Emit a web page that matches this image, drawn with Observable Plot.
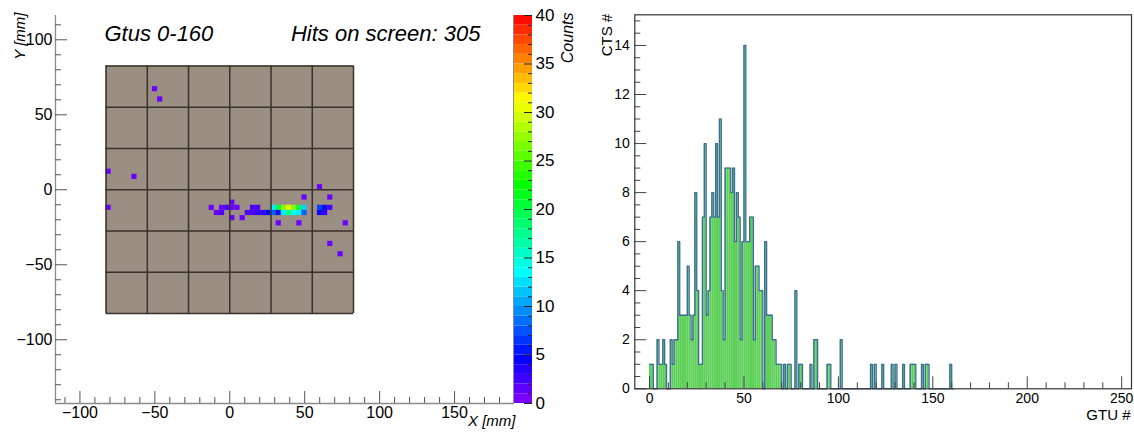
<!DOCTYPE html>
<html><head><meta charset="utf-8">
<script src="https://cdn.jsdelivr.net/npm/d3@7"></script>
<script src="https://cdn.jsdelivr.net/npm/@observablehq/plot@0.6"></script>
<style>
body{margin:0;background:#fff;width:1134px;height:434px;overflow:hidden;position:relative;font-family:"Liberation Sans",Arial,sans-serif;}
.panel{position:absolute;top:0;}
</style></head><body>
<div id="map" class="panel" style="left:0"></div>
<div id="cbar" class="panel" style="left:505px"></div>
<div id="hist" class="panel" style="left:575px"></div>
<script>
// ---------------- data ----------------
// hits on the 48x48 focal surface (pixel column, pixel row from top, counts)
const hitCol   = [9,10, 0,5,0, 20,21,22,22,23, 24,24,25,24,26,27,28,28,29,29,30,31, 32,33,34,35,36,37,38, 32,33,34,35,36,37,38, 33,37,38, 41,42,43,41,42, 41,43,46,43,45];
const hitRow   = [4,6, 20,21,27, 27,28,28,27,27, 26,27,27,29,29,28,27,28,27,28,28,28, 27,27,27,27,27,27,27, 28,28,28,28,28,28,28, 30,30,25, 27,27,27,28,28, 23,25,30,34,36];
const hitCount = [1,1, 1,1,1, 1,1,2,1,2, 1,1,1,1,1,2,2,2,2,3,3,5, 13,20,27,30,27,20,12, 8,5,13,18,14,13,8, 1,1,1, 7,5,2,4,3, 1,1,1,1,1];
const nPix = 48, ecPix = 8, pixPitch = 3.44; // mm

// counts per GTU bin (bins 0..160)
const gtuCounts = [
  1,1,0,0,2,1,1,2,1,0, 0,2,1,2,2,6,3,3,3,3, 5,3,2,3,8,4,1,1,7,10,
  3,4,7,8,7,10,7,11,4,2, 9,9,9,8,9,6,8,7,2,6, 14,6,6,7,7,2,5,5,4,4,
  0,6,3,3,3,2,2,1,1,1, 0,1,0,1,1,0,0,4,0,1, 1,0,0,0,0,1,0,2,2,0,
  0,0,0,0,1,1,0,0,0,0, 0,2,0,0,0,0,0,0,0,0, 0,0,0,0,0,0,0,1,0,1,
  0,0,0,1,0,0,0,0,1,0, 1,0,0,0,1,0,0,0,1,1, 1,0,0,0,1,0,1,1,0,0,
  0,0,0,0,0,0,0,0,0,1, 0
];

const mapXTicks = [-100,-50,0,50,100,150];
const mapYTicks = [-100,-50,0,50,100];
const cbarTicks = [0,5,10,15,20,25,30,35,40];
const histXTicks = [0,50,100,150,200,250];
const histYTicks = [0,2,4,6,8,10,12,14];

const titleLeft = "Gtus 0-160";
const titleRight = "Hits on screen: 305";

// ---------------- helpers ----------------
const FONT = "Liberation Sans, Arial, sans-serif";
const palette = t => d3.hsl(272 * (1 - t), 1, 0.5).formatRgb();

// ---------------- map panel ----------------
const half = nPix * pixPitch / 2;
const hits = hitCol.map((c, i) => ({col: c, row: hitRow[i], n: hitCount[i]}));
const ecEdges = d3.range(0, nPix + 1, ecPix).map(p => -half + p * pixPitch);

const mapX = [-116.3, 190], mapY = [-142.5, 116.2];
const mapW = 520, mapH = 434;
const mM = {top: 15, right: 6, bottom: 31, left: 55};
const mpxX = (mapW - mM.left - mM.right) / (mapX[1] - mapX[0]);
const mpxY = (mapH - mM.top - mM.bottom) / (mapY[1] - mapY[0]);
const mapXMinor = d3.range(-110, 191, 10).filter(v => !mapXTicks.includes(v));
const mapYMinor = d3.range(-140, 116, 10).filter(v => !mapYTicks.includes(v));

const mapPlot = Plot.plot({
  width: mapW, height: mapH,
  marginTop: mM.top, marginRight: mM.right, marginBottom: mM.bottom, marginLeft: mM.left,
  style: {fontFamily: FONT, fontSize: "16px", color: "#000", background: "transparent"},
  x: {domain: mapX, axis: null},
  y: {domain: mapY, axis: null},
  color: {type: "linear", domain: [0, 40], interpolate: palette},
  marks: [
    Plot.rect([0], {x1: -half, x2: half, y1: -half, y2: half, fill: "#9b8e82"}),
    Plot.rect(hits, {
      x1: d => -half + d.col * pixPitch, x2: d => -half + (d.col + 1) * pixPitch,
      y1: d => half - (d.row + 1) * pixPitch, y2: d => half - d.row * pixPitch,
      fill: "n"
    }),
    Plot.ruleX(ecEdges, {x: d => d, y1: -half, y2: half, stroke: "#3a312a", strokeWidth: 1.5}),
    Plot.ruleY(ecEdges, {y: d => d, x1: -half, x2: half, stroke: "#3a312a", strokeWidth: 1.5}),
    // axis lines
    Plot.ruleX([mapX[0]], {stroke: "#8c8c8c", strokeWidth: 1.3}),
    Plot.ruleY([mapY[0]], {stroke: "#8c8c8c", strokeWidth: 1.3}),
    // ticks (inside)
    Plot.ruleX(mapXTicks, {x: d => d, y1: mapY[0], y2: mapY[0] + 12 / mpxY, stroke: "#555"}),
    Plot.ruleX(mapXMinor, {x: d => d, y1: mapY[0], y2: mapY[0] + 6 / mpxY, stroke: "#555"}),
    Plot.ruleY(mapYTicks, {y: d => d, x1: mapX[0], x2: mapX[0] + 12 / mpxX, stroke: "#555"}),
    Plot.ruleY(mapYMinor, {y: d => d, x1: mapX[0], x2: mapX[0] + 6 / mpxX, stroke: "#555"}),
    Plot.axisX(mapXTicks, {tickSize: 0, tickPadding: 3, fontSize: 16, label: null}),
    Plot.axisY(mapYTicks, {tickSize: 0, tickPadding: 3, fontSize: 16, label: null}),
    Plot.text([titleLeft], {frameAnchor: "top-left", dx: 49, dy: 10, textAnchor: "start", fontSize: 22, fontStyle: "italic"}),
    Plot.text([titleRight], {frameAnchor: "top-left", dx: 425, dy: 10, textAnchor: "end", fontSize: 22, fontStyle: "italic"}),
    Plot.text(["Y [mm]"], {frameAnchor: "top-left", dx: -41, dy: -3, rotate: -90, textAnchor: "end", fontSize: 15, fontStyle: "italic"}),
    Plot.text(["X [mm]"], {frameAnchor: "bottom-left", dx: 460, dy: 22, textAnchor: "end", fontSize: 15, fontStyle: "italic"})
  ]
});
document.getElementById("map").appendChild(mapPlot);

// ---------------- colour bar ----------------
const cbW = 80, cbH = 434;
const cbM = {top: 15, bottom: 31, left: 8, right: 53};
const cbLevels = d3.range(0, 40, 1);
const cbMinor = d3.range(0, 41, 1).filter(v => !cbarTicks.includes(v));
const cbPxX = cbW - cbM.left - cbM.right;
const cbPlot = Plot.plot({
  width: cbW, height: cbH,
  marginTop: cbM.top, marginBottom: cbM.bottom, marginLeft: cbM.left, marginRight: cbM.right,
  style: {fontFamily: FONT, fontSize: "16px", color: "#000", background: "transparent"},
  x: {domain: [0, 1], axis: null},
  y: {domain: [0, 40], axis: null},
  color: {type: "linear", domain: [0, 40], interpolate: palette},
  marks: [
    Plot.rect(cbLevels, {x1: 0, x2: 1, y1: d => d, y2: d => d + 1, fill: d => d + 0.5}),
    Plot.ruleX([0], {stroke: "#8c8c8c"}),
    Plot.ruleY(cbarTicks, {y: d => d, x1: 1 - 8 / cbPxX, x2: 1, stroke: "#222"}),
    Plot.ruleY(cbMinor, {y: d => d, x1: 1 - 4 / cbPxX, x2: 1, stroke: "#222"}),
    Plot.axisY(cbarTicks, {anchor: "right", tickSize: 0, tickPadding: 3, fontSize: 17, label: null}),
    Plot.text(["Counts"], {frameAnchor: "top-right", dx: 29, dy: -3, rotate: -90, textAnchor: "end", fontSize: 16, fontStyle: "italic"})
  ]
});
document.getElementById("cbar").appendChild(cbPlot);

// ---------------- histogram ----------------
const bins = gtuCounts.map((v, i) => ({x: i, y: v}));
const steps = bins.concat([{x: gtuCounts.length, y: gtuCounts[gtuCounts.length - 1]}]);
const hX = [-7.8, 255.2], hY = [0, 15.25];
const hW = 559, hH = 434;
const hM = {top: 14.3, right: 3, bottom: 45.7, left: 59.3};
const hpxX = (hW - hM.left - hM.right) / (hX[1] - hX[0]);
const hpxY = (hH - hM.top - hM.bottom) / (hY[1] - hY[0]);
const hXMinor = d3.range(0, 251, 10).filter(v => !histXTicks.includes(v));
const hYMinor = d3.range(0, 15.1, 0.5).filter(v => !histYTicks.includes(v));

const histPlot = Plot.plot({
  width: hW, height: hH,
  marginTop: hM.top, marginRight: hM.right, marginBottom: hM.bottom, marginLeft: hM.left,
  style: {fontFamily: FONT, fontSize: "14px", color: "#000", background: "transparent"},
  x: {domain: hX, axis: null},
  y: {domain: hY, axis: null},
  marks: [
    Plot.rectY(bins, {x1: d => d.x, x2: d => d.x + 1, y: "y", fill: "#5bcf56", inset: 0}),
    Plot.line(steps, {x: "x", y: "y", curve: "step-after", stroke: "#3e6b9c", strokeWidth: 1.3}),
    Plot.ruleX(histXTicks, {x: d => d, y1: 0, y2: 12 / hpxY, stroke: "#444"}),
    Plot.ruleX(hXMinor, {x: d => d, y1: 0, y2: 6 / hpxY, stroke: "#444"}),
    Plot.ruleY(histYTicks, {y: d => d, x1: hX[0], x2: hX[0] + 12 / hpxX, stroke: "#444"}),
    Plot.ruleY(hYMinor, {y: d => d, x1: hX[0], x2: hX[0] + 6 / hpxX, stroke: "#444"}),
    Plot.frame({stroke: "#333", strokeWidth: 1.2}),
    Plot.axisX(histXTicks, {tickSize: 0, tickPadding: 4, fontSize: 14, label: null}),
    Plot.axisY(histYTicks, {tickSize: 0, tickPadding: 5, fontSize: 14, label: null}),
    Plot.text(["CTS #"], {frameAnchor: "top-left", dx: -33, dy: -1, rotate: -90, textAnchor: "end", fontSize: 15}),
    Plot.text(["GTU #"], {frameAnchor: "bottom-right", dx: -1, dy: 31, textAnchor: "end", fontSize: 15})
  ]
});
document.getElementById("hist").appendChild(histPlot);
</script>
</body></html>
